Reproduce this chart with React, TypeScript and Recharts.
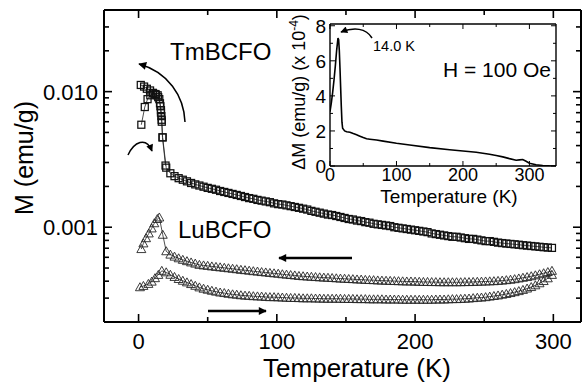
import React from 'react';
import { LineChart, Line, XAxis, YAxis } from 'recharts';

const FONT = '"Liberation Sans", Arial, Helvetica, sans-serif';

// ---------- main panel data (T in K, M in emu/g) ----------
const bandTemps = [
  20,23,26,29,32,35,38,41,44,47,
  50,53,56,59,62,65,68,71,74,77,
  80,83,86,89,92,95,98,101,104,107,
  110,113,116,119,122,125,128,131,134,137,
  140,143,146,149,152,155,158,161,164,167,
  170,173,176,179,182,185,188,191,194,197,
  200,203,206,209,212,215,218,221,224,227,
  230,233,236,239,242,245,248,251,254,257,
  260,263,266,269,272,275,278,281,284,287,
  290,293,296,299];

const tmBand = [
  0.00275,0.0025,0.00238,0.0023,0.00224,0.00218,0.00212,0.00207,0.00203,0.00199,
  0.00195,0.00192,0.00189,0.00185,0.00182,0.00179,0.00176,0.00173,0.0017,0.00167,
  0.00164,0.00162,0.00159,0.00157,0.00155,0.00153,0.0015,0.00148,0.00147,0.00145,
  0.00143,0.00141,0.00139,0.00137,0.00135,0.00132,0.0013,0.00128,0.00126,0.00124,
  0.00123,0.00121,0.00119,0.00117,0.00115,0.00114,0.00112,0.00111,0.00109,0.00108,
  0.00106,0.00105,0.00104,0.00103,0.00102,0.001,0.00099,0.00098,0.00097,0.00096,
  0.00095,0.00094,0.00093,0.00092,0.0009,0.00089,0.00088,0.00087,0.00086,0.00085,
  0.00085,0.00084,0.00083,0.00082,0.00082,0.00081,0.0008,0.00079,0.00079,0.00078,
  0.00077,0.000764,0.000758,0.000753,0.000748,0.000743,0.000737,0.000732,0.000727,0.000722,
  0.000717,0.000712,0.000708,0.000704];

const luUpBand = [
  0.000665,0.000628,0.000607,0.00059,0.000575,0.000562,0.00055,0.000539,0.000528,0.000523,
  0.000519,0.000514,0.00051,0.000506,0.000502,0.000498,0.000494,0.00049,0.000485,0.000482,
  0.000478,0.000474,0.000471,0.000467,0.000464,0.00046,0.000457,0.000454,0.00045,0.000447,
  0.000444,0.000441,0.000437,0.000435,0.000433,0.000431,0.000429,0.000427,0.000425,0.000424,
  0.000422,0.00042,0.000418,0.000417,0.000415,0.000414,0.000412,0.000411,0.000409,0.000408,
  0.000407,0.000405,0.000404,0.000403,0.000402,0.000401,0.0004,0.000399,0.000398,0.000398,
  0.000397,0.000396,0.000395,0.000395,0.000394,0.000394,0.000393,0.000393,0.000393,0.000393,
  0.000393,0.000393,0.000394,0.000394,0.000395,0.000396,0.000397,0.000398,0.000399,0.0004,
  0.000402,0.000404,0.000407,0.00041,0.000414,0.000419,0.000424,0.000429,0.000435,0.000442,
  0.00045,0.000458,0.000467,0.000477];

const luLoBand = [
  0.000465,0.000446,0.00043,0.000415,0.000403,0.000392,0.000381,0.00037,0.00036,0.000352,
  0.000346,0.00034,0.000335,0.00033,0.000327,0.000323,0.00032,0.000318,0.000315,0.000313,
  0.000312,0.00031,0.000309,0.000308,0.000306,0.000305,0.000305,0.000304,0.000303,0.000302,
  0.000301,0.000301,0.0003,0.000299,0.000299,0.000299,0.000298,0.000298,0.000297,0.000297,
  0.000297,0.000297,0.000297,0.000296,0.000296,0.000296,0.000295,0.000295,0.000295,0.000294,
  0.000294,0.000294,0.000294,0.000293,0.000293,0.000293,0.000293,0.000292,0.000292,0.000292,
  0.000292,0.000292,0.000292,0.000292,0.000292,0.000293,0.000293,0.000293,0.000294,0.000295,
  0.000295,0.000296,0.000297,0.000298,0.0003,0.000302,0.000303,0.000305,0.000308,0.000311,
  0.000314,0.000318,0.000322,0.000327,0.000332,0.000338,0.000345,0.000353,0.000362,0.000373,
  0.000386,0.000401,0.00042,0.000445];

// low-temperature points
const tmFcLowT = [1.6, 4, 6, 8.3, 10.3, 12.1, 13.8, 15, 15.8, 16.2, 16.5, 16.7, 17.4];
const tmFcLowM = [0.0112, 0.0109, 0.0105, 0.0102, 0.0098, 0.0096, 0.0094, 0.0088, 0.0078, 0.0073, 0.0066, 0.0062, 0.0046];
const tmZfcT = [2, 4.5, 6.5, 8.5, 10.5, 12.5, 14.2, 15.5, 16.2, 16.8, 17.3, 19.5];
const tmZfcM = [0.0057, 0.0077, 0.0088, 0.0094, 0.0097, 0.0095, 0.0091, 0.0082, 0.007, 0.006, 0.0046, 0.00285];
const luUpLowT = [2, 3.5, 5.4, 7.4, 9.5, 11.4, 13.6, 15, 17.5];
const luUpLowM = [0.00069, 0.00076, 0.00083, 0.0009, 0.00098, 0.00107, 0.00115, 0.00118, 0.00088];
const luLoLowT = [1, 3.5, 7.1, 9.5, 11.9, 14.3, 16.8];
const luLoLowM = [0.000361, 0.000369, 0.000382, 0.000397, 0.000421, 0.000445, 0.000477];

const xTicks = [0, 50, 100, 150, 200, 250, 300];
const xMajor = [0, 100, 200, 300];
const yTicks = [0.0002,0.0003,0.0004,0.0005,0.0006,0.0007,0.0008,0.0009,0.001,0.002,0.003,0.004,0.005,0.006,0.007,0.008,0.009,0.01,0.02,0.03,0.04];
const yMajorVals = [0.001, 0.01];
const yMajorLabels = ['0.001', '0.010'];

// ---------- inset data ----------
const insetT = [0,2,4,6,8,10,12,13,14,15,16,17,18,19,22,25,30,35,40,45,50,55,60,70,80,100,120,150,180,200,220,240,250,260,270,280,285,290,295,300,310,320,330,340];
const insetDM = [3.1,3.6,4.2,4.9,5.7,6.6,7.3,7.2,6.6,5.6,4.5,3.4,2.5,2.15,2.0,1.95,1.93,1.85,1.78,1.7,1.62,1.55,1.53,1.48,1.42,1.3,1.2,1.05,0.93,0.86,0.78,0.67,0.6,0.52,0.42,0.33,0.35,0.37,0.27,0.16,0.07,0.03,0.01,0];
const insetXTicks = [0, 50, 100, 150, 200, 250, 300];
const insetXMajor = [0, 100, 200, 300];
const insetYTicks = [0, 1, 2, 3, 4, 5, 6, 7, 8];
const insetYMajor = [0, 2, 4, 6, 8];

const zip = (ts: number[], ms: number[]) => ts.map((t, i) => ({ t, m: ms[i] }));

const tmFc = zip([...tmFcLowT, ...bandTemps], [...tmFcLowM, ...tmBand]);
const tmZfc = zip(tmZfcT, tmZfcM);
const luUp = zip([...luUpLowT, ...bandTemps], [...luUpLowM, ...luUpBand]);
const luLo = zip([...luLoLowT, ...bandTemps], [...luLoLowM, ...luLoBand]);
const inset = zip(insetT, insetDM);

const squareDot = (p: any) => (
  <rect key={`sq${p.index}`} x={p.cx - 3.5} y={p.cy - 3.5} width={7} height={7} fill="none" stroke="#111" strokeWidth={1.25} />
);
const triDot = (p: any) => (
  <path key={`tr${p.index}`} d={`M${p.cx},${p.cy - 4.5}L${p.cx + 4.5},${p.cy + 3.5}L${p.cx - 4.5},${p.cy + 3.5}Z`} fill="none" stroke="#262626" strokeWidth={0.9} />
);

// ---------- tick renderers ----------
const BottomTick = (p: any) => {
  const v = p.payload.value;
  const major = xMajor.includes(v);
  return (
    <g>
      <line x1={p.x} x2={p.x} y1={p.y} y2={p.y - (major ? 8 : 5)} stroke="#000" strokeWidth={1.6} />
      {major && (
        <text x={p.x} y={p.y + 27} textAnchor="middle" fontSize={22} fontFamily={FONT} fill="#000">{v}</text>
      )}
    </g>
  );
};
const TopTick = (p: any) => {
  const v = p.payload.value;
  const major = xMajor.includes(v);
  return <line x1={p.x} x2={p.x} y1={p.y} y2={p.y + (major ? 8 : 5)} stroke="#000" strokeWidth={1.6} />;
};
const LeftTick = (p: any) => {
  const v = p.payload.value;
  const idx = yMajorVals.findIndex((m) => Math.abs(m - v) < m * 1e-6);
  const major = idx >= 0;
  return (
    <g>
      <line x1={p.x} x2={p.x + (major ? 8 : 5)} y1={p.y} y2={p.y} stroke="#000" strokeWidth={1.6} />
      {major && (
        <text x={p.x - 6} y={p.y + 8} textAnchor="end" fontSize={22} fontFamily={FONT} fill="#000">{yMajorLabels[idx]}</text>
      )}
    </g>
  );
};
const RightTick = (p: any) => {
  const v = p.payload.value;
  const major = yMajorVals.some((m) => Math.abs(m - v) < m * 1e-6);
  return <line x1={p.x} x2={p.x - (major ? 8 : 5)} y1={p.y} y2={p.y} stroke="#000" strokeWidth={1.6} />;
};

const InBottomTick = (p: any) => {
  const v = p.payload.value;
  const major = insetXMajor.includes(v);
  return (
    <g>
      <line x1={p.x} x2={p.x} y1={p.y} y2={p.y - (major ? 5 : 3)} stroke="#000" strokeWidth={1} />
      {major && (
        <text x={p.x} y={p.y + 15} textAnchor="middle" fontSize={18} fontFamily={FONT} fill="#000">{v}</text>
      )}
    </g>
  );
};
const InTopTick = (p: any) => {
  const v = p.payload.value;
  const major = insetXMajor.includes(v);
  return <line x1={p.x} x2={p.x} y1={p.y} y2={p.y + (major ? 5 : 3)} stroke="#000" strokeWidth={1} />;
};
const InLeftTick = (p: any) => {
  const v = p.payload.value;
  const major = insetYMajor.includes(v);
  return (
    <g>
      <line x1={p.x} x2={p.x + (major ? 5 : 3)} y1={p.y} y2={p.y} stroke="#000" strokeWidth={1} />
      {major && (
        <text x={p.x - 4} y={p.y + 7} textAnchor="end" fontSize={19} fontFamily={FONT} fill="#000">{v}</text>
      )}
    </g>
  );
};
const InRightTick = (p: any) => {
  const v = p.payload.value;
  const major = insetYMajor.includes(v);
  return <line x1={p.x} x2={p.x - (major ? 5 : 3)} y1={p.y} y2={p.y} stroke="#000" strokeWidth={1} />;
};

const AX = { stroke: '#000', strokeWidth: 2 };
const AXI = { stroke: '#000', strokeWidth: 1.4 };

export default function App() {
  return (
    <div style={{ position: 'absolute', left: 0, top: 0, width: 588, height: 384, background: '#fff', overflow: 'hidden' }}>
      <LineChart width={588} height={384} margin={{ top: 0, right: 0, bottom: 0, left: 0 }}>
        <XAxis xAxisId="b" dataKey="t" type="number" domain={[-25, 320]} allowDataOverflow ticks={xTicks} interval={0}
          orientation="bottom" height={62} axisLine={AX} tickLine={false} tickSize={0} tickMargin={0} tick={<BottomTick />} />
        <XAxis xAxisId="top" dataKey="t" type="number" domain={[-25, 320]} allowDataOverflow ticks={xTicks} interval={0}
          orientation="top" height={10} axisLine={AX} tickLine={false} tickSize={0} tickMargin={0} tick={<TopTick />} />
        <YAxis yAxisId="l" type="number" scale="log" domain={[0.0002, 0.04]} allowDataOverflow ticks={yTicks} interval={0}
          orientation="left" width={104} axisLine={AX} tickLine={false} tickSize={0} tickMargin={0} tick={<LeftTick />} />
        <YAxis yAxisId="r" type="number" scale="log" domain={[0.0002, 0.04]} allowDataOverflow ticks={yTicks} interval={0}
          orientation="right" width={7} axisLine={AX} tickLine={false} tickSize={0} tickMargin={0} tick={<RightTick />} />
        <Line xAxisId="top" yAxisId="r" data={tmFc} dataKey="m" stroke="none" dot={false} activeDot={false} isAnimationActive={false} />
        <Line xAxisId="b" yAxisId="l" data={luLo} dataKey="m" stroke="#222" strokeWidth={0.8} dot={triDot} activeDot={false} isAnimationActive={false} />
        <Line xAxisId="b" yAxisId="l" data={luUp} dataKey="m" stroke="#222" strokeWidth={0.8} dot={triDot} activeDot={false} isAnimationActive={false} />
        <Line xAxisId="b" yAxisId="l" data={tmZfc} dataKey="m" stroke="#222" strokeWidth={0.8} dot={squareDot} activeDot={false} isAnimationActive={false} />
        <Line xAxisId="b" yAxisId="l" data={tmFc} dataKey="m" stroke="#222" strokeWidth={0.8} dot={squareDot} activeDot={false} isAnimationActive={false} />
      </LineChart>

      <div style={{ position: 'absolute', left: 260, top: 0 }}>
        <LineChart width={310} height={215} margin={{ top: 0, right: 0, bottom: 0, left: 0 }}>
          <XAxis xAxisId="b" dataKey="t" type="number" domain={[0, 340]} allowDataOverflow ticks={insetXTicks} interval={0}
            orientation="bottom" height={49} axisLine={AXI} tickLine={false} tickSize={0} tickMargin={0} tick={<InBottomTick />} />
          <XAxis xAxisId="top" dataKey="t" type="number" domain={[0, 340]} allowDataOverflow ticks={insetXTicks} interval={0}
            orientation="top" height={24} axisLine={AXI} tickLine={false} tickSize={0} tickMargin={0} tick={<InTopTick />} />
          <YAxis yAxisId="l" type="number" domain={[0, 8.1]} allowDataOverflow ticks={insetYTicks} interval={0}
            orientation="left" width={70} axisLine={AXI} tickLine={false} tickSize={0} tickMargin={0} tick={<InLeftTick />} />
          <YAxis yAxisId="r" type="number" domain={[0, 8.1]} allowDataOverflow ticks={insetYTicks} interval={0}
            orientation="right" width={14} axisLine={AXI} tickLine={false} tickSize={0} tickMargin={0} tick={<InRightTick />} />
          <Line xAxisId="top" yAxisId="r" data={inset} dataKey="m" stroke="none" dot={false} activeDot={false} isAnimationActive={false} />
          <Line xAxisId="b" yAxisId="l" data={inset} dataKey="m" stroke="#000" strokeWidth={1.6} dot={false} activeDot={false} isAnimationActive={false} />
        </LineChart>
      </div>

      <svg width={588} height={384} style={{ position: 'absolute', left: 0, top: 0, pointerEvents: 'none' }}>
        <defs>
          <marker id="ah" viewBox="0 0 10 10" refX={9} refY={5} markerWidth={11} markerHeight={8} markerUnits="userSpaceOnUse" orient="auto">
            <path d="M0,0 L10,5 L0,10 Z" fill="#000" />
          </marker>
          <marker id="ahs" viewBox="0 0 10 10" refX={9} refY={5} markerWidth={9} markerHeight={7} markerUnits="userSpaceOnUse" orient="auto">
            <path d="M0,0 L10,5 L0,10 Z" fill="#000" />
          </marker>
        </defs>
        {/* axis titles */}
        <text transform="translate(33,158) rotate(-90)" textAnchor="middle" fontSize={25} fontFamily={FONT} fill="#000">M (emu/g)</text>
        <text x={357} y={377} textAnchor="middle" fontSize={26} fontFamily={FONT} fill="#000">Temperature (K)</text>
        <text transform="translate(305,92) rotate(-90)" textAnchor="middle" fontSize={18} fontFamily={FONT} fill="#000">
          ΔM (emu/g) (x 10<tspan dy={-7} fontSize={12}>-4</tspan><tspan dy={7}>)</tspan>
        </text>
        <text x={449} y={203} textAnchor="middle" fontSize={19} fontFamily={FONT} fill="#000">Temperature (K)</text>
        {/* sample labels */}
        <text x={170} y={60} fontSize={24} fontFamily={FONT} fill="#000">TmBCFO</text>
        <text x={178} y={238} fontSize={24} fontFamily={FONT} fill="#000">LuBCFO</text>
        <text x={373} y={51} fontSize={14.5} fontFamily={FONT} fill="#000">14.0 K</text>
        <text x={551} y={77} textAnchor="end" fontSize={21} fontFamily={FONT} fill="#000">H = 100 Oe</text>
        {/* arrows */}
        <path d="M185,122 C184,96 168,72 139,64" fill="none" stroke="#000" strokeWidth={1.5} markerEnd="url(#ah)" />
        <path d="M128,155 C134,142 146,136 152,151" fill="none" stroke="#000" strokeWidth={1.5} markerEnd="url(#ahs)" />
        <line x1={352} y1={258} x2={279} y2={258} stroke="#000" strokeWidth={2.5} markerEnd="url(#ah)" />
        <line x1={208} y1={311} x2={266} y2={311} stroke="#000" strokeWidth={2.5} markerEnd="url(#ah)" />
        <path d="M372,38 C366,28 354,27 341,32" fill="none" stroke="#000" strokeWidth={1.5} markerEnd="url(#ahs)" />
      </svg>
    </div>
  );
}
